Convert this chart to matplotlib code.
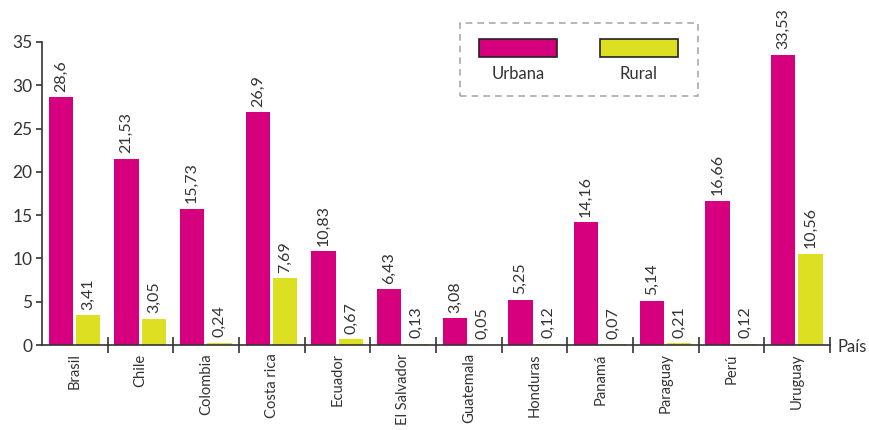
import numpy as np
import matplotlib.pyplot as plt
from matplotlib.patches import Rectangle

paises = ['Brasil', 'Chile', 'Colombia', 'Costa rica', 'Ecuador', 'El Salvador',
          'Guatemala', 'Honduras', 'Panamá', 'Paraguay', 'Perú', 'Uruguay']
urbana = [28.6, 21.53, 15.73, 26.9, 10.83, 6.43, 3.08, 5.25, 14.16, 5.14, 16.66, 33.53]
rural = [3.41, 3.05, 0.24, 7.69, 0.67, 0.13, 0.05, 0.12, 0.07, 0.21, 0.12, 10.56]
yticks = [0, 5, 10, 15, 20, 25, 30, 35]

c_urb = '#D6007E'
c_rur = '#DDE020'
txt = '#333333'

plt.rcParams['font.family'] = ['Lato', 'DejaVu Sans']

fig = plt.figure(figsize=(8.7, 4.3), dpi=100)
ax = fig.add_axes([42 / 870, 1 - 345 / 430, 788 / 870, (345 - 42) / 430])

x = np.arange(len(paises))
w = 0.37
bu = ax.bar(x + 0.1, urbana, w, align='edge', color=c_urb)
br = ax.bar(x + 0.52, rural, w, align='edge', color=c_rur)


def fmt(v):
    return f'{v:g}'.replace('.', ',')


for bars, vals in ((bu, urbana), (br, rural)):
    for b, v in zip(bars, vals):
        ax.annotate(fmt(v), (b.get_x() + b.get_width() / 2, v),
                    xytext=(0, 4), textcoords='offset points',
                    rotation=90, ha='center', va='bottom',
                    fontsize=11.5, color=txt)

ax.set_xlim(0, len(paises))
ax.set_ylim(0, 35)
ax.set_yticks(yticks)
ax.tick_params(axis='y', direction='out', length=4, width=1.2,
               labelsize=12.5, colors=txt, pad=3)

# separators between countries
ax.set_xticks(np.arange(1, len(paises) + 1))
ax.set_xticklabels([])
ax.tick_params(axis='x', which='major', direction='inout', length=12,
               width=1.2, colors=txt)
ax.set_xticks(x + 0.5, minor=True)
ax.set_xticklabels(paises, minor=True, rotation=90, fontsize=10.6,
                   color=txt, va='top')
ax.tick_params(axis='x', which='minor', length=0, pad=6)

for s in ('top', 'right'):
    ax.spines[s].set_visible(False)
for s in ('left', 'bottom'):
    ax.spines[s].set_color(txt)
    ax.spines[s].set_linewidth(1.2)

fig.text(838 / 870, 1 - 347 / 430, 'País', fontsize=12, color=txt,
         ha='left', va='center')

# legend box
fig.add_artist(Rectangle((460 / 870, 1 - 96 / 430), 238 / 870, 73 / 430,
                         transform=fig.transFigure, fill=False,
                         edgecolor='#AAAAAA', linestyle=(0, (4, 3)), lw=1.2))
for x0, col, lab in ((479, c_urb, 'Urbana'), (600, c_rur, 'Rural')):
    fig.add_artist(Rectangle((x0 / 870, 1 - 57 / 430), 78 / 870, 18 / 430,
                             transform=fig.transFigure, facecolor=col,
                             edgecolor='#222222', lw=1.2))
    fig.text((x0 + 39) / 870, 1 - 74 / 430, lab, fontsize=12, color=txt,
             ha='center', va='center')

fig.savefig('out.png', dpi=100)
